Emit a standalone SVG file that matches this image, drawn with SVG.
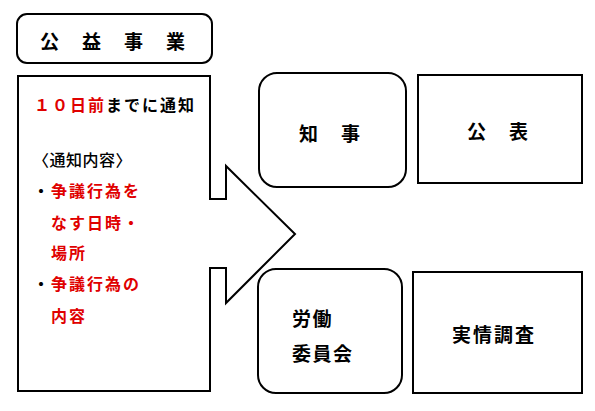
<svg xmlns="http://www.w3.org/2000/svg" width="595" height="411" viewBox="0 0 595 411">
<style>
.box{fill:#fff;stroke:#000;stroke-width:2}
text{font-family:"Noto Sans CJK JP","Noto Sans",sans-serif;font-weight:bold;fill:#000}
.red{fill:#e00000}
.l{font-size:16px;letter-spacing:2px}
.w{font-size:19px;letter-spacing:23px}
</style>
<rect width="595" height="411" fill="#fff"/>
<g id="title">
<rect class="box" x="17" y="14" width="195" height="49" rx="10"/>
<text class="w" x="40" y="49">公益事業</text>
</g>
<g id="notice">
<path class="box" d="M18,76 H210 V199 H226 V166 L295,234 L226,303 V268 H210 V391 H18 Z"/>
<text class="l" x="34" y="111"><tspan class="red">１０日前</tspan>までに通知</text>
<text x="33" y="166" style="font-size:16px;letter-spacing:0.5px;font-weight:500">〈通知内容〉</text>
<text class="l" x="33" y="197">・<tspan class="red">争議行為を</tspan></text>
<text class="l red" x="51" y="229">なす日時・</text>
<text class="l red" x="51" y="259">場所</text>
<text class="l" x="33" y="290">・<tspan class="red">争議行為の</tspan></text>
<text class="l red" x="51" y="322">内容</text>
</g>
<g id="governor">
<rect class="box" x="259" y="73" width="147" height="114" rx="18"/>
<text class="w" x="299" y="141">知事</text>
</g>
<g id="publish">
<rect class="box" x="418" y="75" width="164" height="108"/>
<text class="w" x="467" y="139">公表</text>
</g>
<g id="labor">
<rect class="box" x="258" y="269" width="144" height="124" rx="18"/>
<text x="292" y="326" style="font-size:19px;letter-spacing:1.5px">労働</text>
<text x="292" y="361" style="font-size:19px;letter-spacing:1.5px">委員会</text>
</g>
<g id="survey">
<rect class="box" x="413" y="272" width="169" height="121"/>
<text x="452" y="342" style="font-size:19px;letter-spacing:2px">実情調査</text>
</g>
<g id="connectors"></g>
</svg>
